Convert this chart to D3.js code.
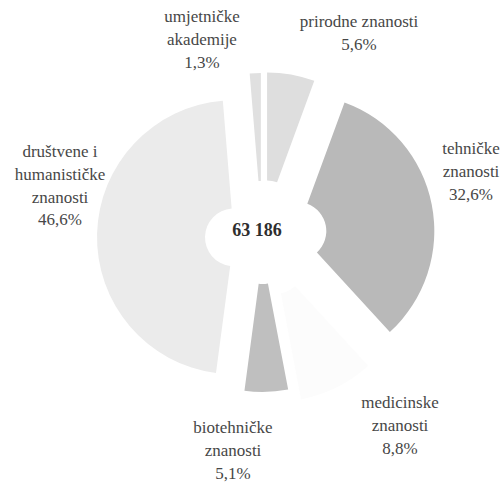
<!DOCTYPE html>
<html>
<head>
<meta charset="utf-8">
<script src="https://cdn.jsdelivr.net/npm/d3@7"></script>
<style>
  html, body { margin: 0; padding: 0; background: #ffffff; }
  #chart, #chart text, #chart tspan { font-family: "Liberation Serif", serif; }
</style>
</head>
<body>
<svg id="chart" width="504" height="482"></svg>
<script>
// Share of students by scientific field (total 63 186)
const fields = ["prirodne znanosti", "tehničke znanosti", "medicinske znanosti",
                "biotehničke znanosti", "društvene i humanističke znanosti", "umjetničke akademije"];
const shares = [5.6, 32.6, 8.8, 5.1, 46.6, 1.3];
const shareLabels = ["5,6%", "32,6%", "8,8%", "5,1%", "46,6%", "1,3%"];
const total = "63 186";

// Label line breaks per field
const labelLines = [
  ["prirodne znanosti"],
  ["tehničke", "znanosti"],
  ["medicinske", "znanosti"],
  ["biotehničke", "znanosti"],
  ["društvene i", "humanističke", "znanosti"],
  ["umjetničke", "akademije"]
];

// Styling
const fills = ["#dedede", "#b9b9b9", "#fcfcfc", "#bfbfbf", "#ebebeb", "#e0e0e0"];
const explode = [29, 36, 30, 17, 28, 28];
const labelPos = [[359, 27], [471, 154], [400, 408], [233, 433], [60, 157], [202, 22]];

const cx = 262, cy = 238;
const outerR = 137, innerR = 29;
const lineH = 22.8;

const svg = d3.select("#chart");

const pie = d3.pie().sort(null).value(d => d).startAngle(0).endAngle(2 * Math.PI);
const arc = d3.arc().innerRadius(innerR).outerRadius(outerR);
const arcs = pie(shares);

const g = svg.append("g").attr("transform", `translate(${cx},${cy})`);

g.selectAll("path.slice")
  .data(arcs)
  .join("path")
  .attr("class", "slice")
  .attr("fill", (d, i) => fills[i])
  .attr("transform", (d, i) => {
    const a = (d.startAngle + d.endAngle) / 2;
    return `translate(${Math.sin(a) * explode[i]},${-Math.cos(a) * explode[i]})`;
  })
  .attr("d", arc);

// Centre total
svg.append("text")
  .attr("x", 257).attr("y", 236)
  .attr("text-anchor", "middle")
  .attr("font-size", 18).attr("font-weight", "bold")
  .attr("fill", "#2e2e2e")
  .text(total);

// Category labels, one line per text element
const rows = [];
arcs.forEach((d, i) => {
  labelLines[i].concat([shareLabels[i]]).forEach((s, k) => {
    rows.push({ text: s, x: labelPos[i][0], y: labelPos[i][1] + k * lineH });
  });
});

svg.selectAll("text.lbl")
  .data(rows)
  .join("text")
  .attr("class", "lbl")
  .attr("text-anchor", "middle")
  .attr("font-size", 17)
  .attr("fill", "#474747")
  .attr("x", d => d.x)
  .attr("y", d => d.y)
  .text(d => d.text);
</script>
</body>
</html>
